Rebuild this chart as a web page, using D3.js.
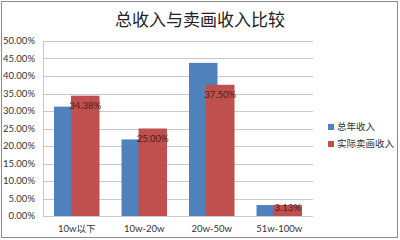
<!DOCTYPE html>
<html>
<head>
<meta charset="utf-8">
<script src="https://cdn.jsdelivr.net/npm/d3@7"></script>
<style>
  body { margin: 0; background: #fff; }
  text { font-family: "Lato", "Noto Sans CJK SC", sans-serif; }
</style>
</head>
<body>
<div id="chart"></div>
<script>
// chart data
const categories = ["10w以下", "10w-20w", "20w-50w", "51w-100w"];
const seriesNames = ["总年收入", "实际卖画收入"];
const totalIncome = [0.3125, 0.2188, 0.4375, 0.0313];
const paintingIncome = [0.3438, 0.25, 0.375, 0.0313];
const yTicks = [0, 0.05, 0.1, 0.15, 0.2, 0.25, 0.3, 0.35, 0.4, 0.45, 0.5];
const colors = ["#4F81BD", "#C0504D"];

const width = 400, height = 240;
const margin = { top: 41, right: 87, bottom: 24, left: 43 };

const svg = d3.select("#chart").append("svg")
    .attr("width", width)
    .attr("height", height);

// outer border
svg.append("rect")
    .attr("x", 1.5).attr("y", 1.5)
    .attr("width", 396).attr("height", 236)
    .attr("fill", "#fff")
    .attr("stroke", "#8c8c8c");

const x = d3.scaleBand()
    .domain(categories)
    .range([margin.left, width - margin.right]);

const y = d3.scaleLinear()
    .domain([0, 0.5])
    .range([height - margin.bottom, margin.top]);

// gridlines
svg.append("g")
    .selectAll("line")
    .data(yTicks)
    .join("line")
    .attr("x1", margin.left)
    .attr("x2", width - margin.right)
    .attr("y1", d => Math.round(y(d)) + 0.5)
    .attr("y2", d => Math.round(y(d)) + 0.5)
    .attr("stroke", "#c8c8c8");

// y axis line
svg.append("line")
    .attr("x1", margin.left + 0.5).attr("x2", margin.left + 0.5)
    .attr("y1", y(0.5)).attr("y2", y(0))
    .attr("stroke", "#c8c8c8");

// y tick labels
svg.append("g")
    .selectAll("text")
    .data(yTicks)
    .join("text")
    .attr("x", 35)
    .attr("y", d => y(d))
    .attr("dy", "0.35em")
    .attr("text-anchor", "end")
    .attr("font-size", 9.5)
    .attr("fill", "#333")
    .text(d3.format(".2%"));

// bars: blue sits partly under the red one
const step = x.bandwidth();
const barW = 28.5;
const blueOff = 11, redOff = 28;

const g = svg.append("g");
g.selectAll("rect.total")
    .data(totalIncome)
    .join("rect")
    .attr("class", "total")
    .attr("x", (d, i) => x(categories[i]) + blueOff)
    .attr("y", d => y(d))
    .attr("width", barW)
    .attr("height", d => y(0) - y(d))
    .attr("fill", colors[0]);

g.selectAll("rect.paint")
    .data(paintingIncome)
    .join("rect")
    .attr("class", "paint")
    .attr("x", (d, i) => x(categories[i]) + redOff)
    .attr("y", d => y(d))
    .attr("width", barW)
    .attr("height", d => y(0) - y(d))
    .attr("fill", colors[1]);

// value labels on red bars (inside end, pushed up for short bars)
g.selectAll("text.lab")
    .data(paintingIncome)
    .join("text")
    .attr("class", "lab")
    .attr("x", (d, i) => x(categories[i]) + redOff + barW / 2)
    .attr("y", d => Math.min(y(d) + 10, y(0) - 8.7))
    .attr("dy", "0.35em")
    .attr("text-anchor", "middle")
    .attr("font-size", 9.5)
    .attr("fill", "#4a1c1c")
    .text(d3.format(".2%"));

// category labels
svg.append("g")
    .selectAll("text")
    .data(categories)
    .join("text")
    .attr("x", d => x(d) + step / 2)
    .attr("y", 229)
    .attr("dy", "0.35em")
    .attr("text-anchor", "middle")
    .attr("font-size", 9.5)
    .attr("fill", "#333")
    .text(d => d);

// title
svg.append("text")
    .attr("x", 200)
    .attr("y", 20)
    .attr("dy", "0.35em")
    .attr("text-anchor", "middle")
    .attr("font-size", 17)
    .attr("fill", "#222")
    .style("font-family", "'Noto Sans CJK SC', sans-serif")
    .text("总收入与卖画收入比较");

// legend
const legend = svg.append("g")
    .selectAll("g")
    .data(seriesNames)
    .join("g")
    .attr("transform", (d, i) => `translate(328,${127 + i * 17})`);

legend.append("rect")
    .attr("x", 0).attr("y", -3)
    .attr("width", 6).attr("height", 6)
    .attr("fill", (d, i) => colors[i]);

legend.append("text")
    .attr("x", 9)
    .attr("dy", "0.35em")
    .attr("font-size", 9.5)
    .attr("fill", "#333")
    .text(d => d);
</script>
</body>
</html>
